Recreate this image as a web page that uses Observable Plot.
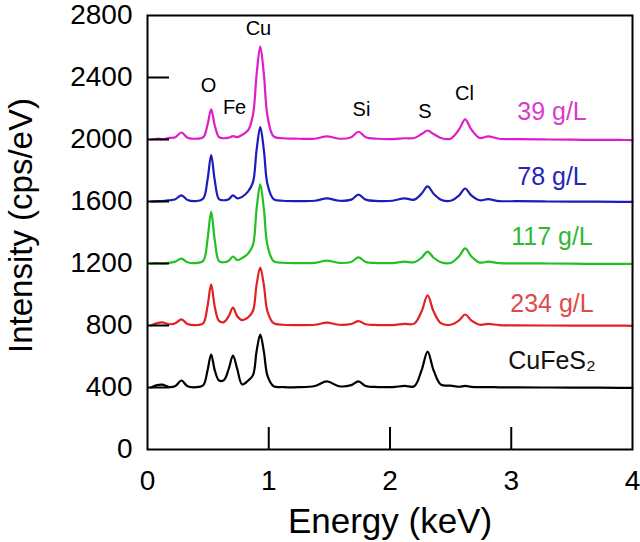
<!DOCTYPE html>
<html>
<head>
<meta charset="utf-8">
<script src="https://cdn.jsdelivr.net/npm/d3@7"></script>
<script src="https://cdn.jsdelivr.net/npm/@observablehq/plot@0.6"></script>
<style>
  html, body { margin: 0; padding: 0; background: white; }
</style>
</head>
<body>
<div id="chart"></div>
<script>
// Energy grid (keV)
const energy = [0.03,0.08,0.12,0.18,0.23,0.28,0.33,0.40,0.46,0.495,0.525,0.555,0.59,0.63,0.67,0.705,0.74,0.78,0.83,0.87,0.90,0.93,0.96,0.99,1.04,1.12,1.25,1.38,1.48,1.58,1.68,1.74,1.80,1.90,2.02,2.12,2.20,2.26,2.31,2.36,2.42,2.50,2.57,2.62,2.67,2.74,2.81,2.90,3.05,3.3,3.6,3.9,4.0];

// Intensity (cps/eV), offset spectra as drawn
const s39 = [2000,2005,2002,2010,2015,2045,2012,2005,2015,2095,2195,2090,2015,2008,2012,2022,2015,2030,2060,2160,2420,2600,2420,2150,2020,2008,2005,2005,2020,2005,2015,2050,2015,2005,2003,2008,2010,2035,2058,2035,2010,2005,2065,2130,2065,2010,2020,2005,2002,2000,1998,1997,1996];
const s78 = [1600,1603,1602,1608,1615,1640,1610,1603,1620,1740,1900,1735,1615,1608,1615,1640,1620,1630,1665,1725,1935,2080,1930,1710,1615,1605,1603,1605,1620,1605,1612,1645,1612,1603,1605,1620,1612,1650,1697,1650,1612,1605,1640,1684,1640,1608,1615,1603,1602,1600,1599,1598,1598];
const s117 = [1200,1203,1200,1205,1212,1232,1208,1203,1218,1355,1535,1350,1215,1208,1218,1245,1222,1235,1265,1320,1555,1710,1550,1315,1215,1205,1203,1204,1218,1204,1210,1240,1210,1203,1203,1212,1208,1237,1277,1237,1208,1203,1247,1297,1247,1206,1212,1203,1201,1200,1198,1198,1197];
const s234 = [800,815,820,808,815,839,810,803,815,925,1065,920,830,822,860,916,860,835,852,895,1065,1174,1060,890,815,805,803,805,818,805,810,828,808,803,803,810,812,890,994,890,815,805,833,871,833,805,810,803,801,800,799,799,798];
const sCuFeS2 = [400,415,418,403,410,445,408,402,415,510,613,510,445,448,520,606,520,420,445,480,635,742,630,475,408,403,402,410,439,408,415,439,410,403,403,410,408,510,632,510,418,412,405,410,404,402,403,401,401,400,399,398,398];

const seriesNames = ["39 g/L","78 g/L","117 g/L","234 g/L","CuFeS₂"];
const seriesColors = ["#dc1ec8","#1c1cb8","#22c022","#e02222","#000000"];
const labelColors = ["#d83ccc","#2626bb","#33b833","#e04a4a","#111111"];
const labelX = [3.336,3.336,3.336,3.336,3.336];
const labelY = [2177,1756,1374,941,572];

const elementNames = ["O","Fe","Cu","Si","S","Cl"];
const elementX = [0.503,0.718,0.915,1.765,2.289,2.614];
const elementY = [2347,2203,2716,2193,2180,2296];

const xTicks = [0,1,2,3,4];
const yTicks = [0,400,800,1200,1600,2000,2400,2800];
const xInnerTicks = [1,2,3];
const yInnerTicks = [400,800,1200,1600,2000,2400];

const allSeries = [s39,s78,s117,s234,sCuFeS2];
const rows = allSeries.flatMap((vals, i) => vals.map((v, j) => ({e: energy[j], v, s: seriesNames[i]})));
const seriesLabels = seriesNames.map((n, i) => ({n, x: labelX[i], y: labelY[i], c: labelColors[i]}));
const elementLabels = elementNames.map((n, i) => ({n, x: elementX[i], y: elementY[i]}));

const W = 640, H = 542, ML = 147, MR = 8, MT = 15, MB = 93;

const chart = Plot.plot({
  width: W, height: H,
  marginLeft: ML, marginRight: MR, marginTop: MT, marginBottom: MB,
  style: {fontFamily: "'Liberation Sans', Arial, Helvetica, sans-serif", background: "white", color: "black"},
  x: {domain: [0, 4]},
  y: {domain: [0, 2800]},
  color: {domain: seriesNames, range: seriesColors},
  marks: [
    Plot.line(rows, {x: "e", y: "v", z: "s", stroke: "s", strokeWidth: 2.2, curve: "catmull-rom"}),
    Plot.tickY(yInnerTicks, {y: d => d, insetRight: (W - ML - MR) - 22, strokeWidth: 2, stroke: "black"}),
    Plot.tickX(xInnerTicks, {x: d => d, insetTop: (H - MT - MB) - 22, strokeWidth: 2, stroke: "black"}),
    Plot.frame({stroke: "black", strokeWidth: 2}),
    Plot.axisX({ticks: xTicks, tickSize: 0, tickPadding: 21, fontSize: 28, label: null, tickFormat: d => String(d)}),
    Plot.axisY({ticks: yTicks, tickSize: 0, tickPadding: 15, fontSize: 28, label: null, tickFormat: d => String(d)}),
    Plot.text(elementLabels, {x: "x", y: "y", text: "n", fontSize: 20, fill: "black"}),
    Plot.text(seriesLabels, {x: "x", y: "y", text: "n", fontSize: 25, fill: "c"}),
    Plot.text(["Energy (keV)"], {frameAnchor: "bottom", dy: 72, textAnchor: "middle", lineAnchor: "middle", fontSize: 35, fill: "black"}),
    Plot.text(["Intensity (cps/eV)"], {frameAnchor: "left", rotate: -90, dx: -126, dy: -7, textAnchor: "middle", lineAnchor: "middle", fontSize: 33, fill: "black"})
  ]
});
document.getElementById("chart").appendChild(chart);
</script>
</body>
</html>
